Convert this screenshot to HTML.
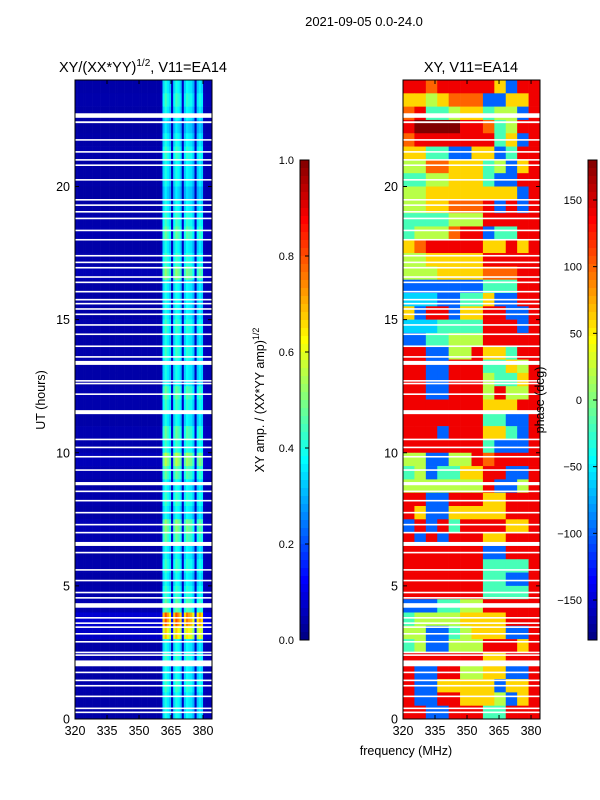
<!DOCTYPE html>
<html><head><meta charset="utf-8"><style>
body{margin:0;background:#fff;}
svg{display:block;font-family:"Liberation Sans","DejaVu Sans",sans-serif;}
</style></head><body>
<svg id="fig" width="600" height="800" viewBox="0 0 600 800" xmlns="http://www.w3.org/2000/svg">
<text x="364" y="26" font-size="13" text-anchor="middle">2021-09-05 0.0-24.0</text>
<text x="143" y="72" font-size="14.5" text-anchor="middle">XY/(XX*YY)<tspan font-size="10" dy="-6">1/2</tspan><tspan dy="6">, V11=EA14</tspan></text>
<text x="471" y="72" font-size="14.5" text-anchor="middle">XY, V11=EA14</text>
<text x="406" y="755" font-size="12.5" text-anchor="middle">frequency (MHz)</text>
<text transform="translate(45,400) rotate(-90)" font-size="12.5" text-anchor="middle">UT (hours)</text>
<text transform="translate(264,400) rotate(-90)" font-size="12.5" text-anchor="middle">XY amp. / (XX*YY amp)<tspan font-size="9" dy="-5">1/2</tspan></text>
<g id="amp"></g>
<g id="pha"></g>
<g id="flags"></g>
<g id="axes"></g>
<text transform="translate(544,400) rotate(-90)" font-size="12.5" text-anchor="middle">phase (deg)</text>
<g id="cbars"></g>
</svg>
<script>
const freqTicks=[320,335,350,365,380];
const timeTicks=[0,5,10,15,20];
const ampTicks=[0.0,0.2,0.4,0.6,0.8,1.0];
const phaseTicks=[-150,-100,-50,0,50,100,150];
// amplitude column profile, 1 MHz channels 320..383
const ampCols=[0.04,0.04,0.04,0.04,0.04,0.04,0.04,0.04,0.04,0.04,0.04,0.04,0.04,0.04,0.04,0.04,
0.04,0.04,0.04,0.04,0.04,0.04,0.04,0.04,0.04,0.04,0.04,0.04,0.04,0.04,0.04,0.04,
0.04,0.04,0.04,0.04,0.04,0.04,0.04,0.04,0.06,0.34,0.4,0.36,0.32,0.07,0.34,0.4,0.37,0.33,
0.07,0.33,0.38,0.36,0.35,0.3,0.07,0.32,0.36,0.33,0.06,0.05,0.05,0.05];
// row gain per 0.5h bin, from 23.5-24 down to 0-0.5
const ampRows=[1,1.1,1,0.9,1,1.1,1,1,0.9,1,1.1,1.2,1,1.1,1.3,1,1,1,1.1,1,1.1,1,1,1.2,
1.1,1,1.2,1.1,1.4,1.2,1,1.1,1,1.3,1.2,1,1.1,1,1.1,1.2,2.0,1.7,1,1.1,1,1.1,1,1];
// phase grid digits 0..9 -> -180..180, 12 freq cols, rows from top (24h) down
const phaseRows=["887888886288","665677722668","784456645528","899998874588","788888884628","664422662488",
"557766645268","445566642288","556666666628","556677782828","444455588888","455578824488",
"678888866868","556666688888","555666677788","222222244488","333224462288","628826688228",
"333444488828","224455588888","882255866488","882288844658","882288854468","882288858558",
"888888866688","888888844228","888288866428","888888842228","552255878888","452446688228",
"555555582258","882288866888","862266666888","282848888668","828288866888","888888822888",
"888888844448","888888844228","888888844448","222445588888","455556666888","552245666228",
"452255588868","888888866888","822885566228","822666662668","822886665268","882288844888"];
// flagged (blank) time intervals, hours [start,end]
const flagged=[[22.58,22.75],[22.38,22.45],[21.72,21.78],[21.27,21.33],[20.97,21.03],[20.77,20.83],[20.22,20.28],
[19.47,19.53],[19.27,19.33],[19.02,19.08],[18.77,18.83],[18.32,18.38],[17.97,18.03],[17.37,17.43],[17.12,17.18],
[16.92,16.98],[16.57,16.63],[16.37,16.43],[16.02,16.08],[15.72,15.78],[15.57,15.63],[15.37,15.43],[15.17,15.23],
[14.77,14.83],[14.42,14.48],[13.97,14.03],[13.57,13.63],[13.3,13.45],[12.67,12.73],[12.57,12.63],[12.17,12.23],
[11.45,11.6],[10.47,10.53],[10.17,10.23],[9.82,9.88],[9.32,9.38],[8.78,8.9],[8.52,8.58],[8.17,8.23],[7.72,7.78],
[7.27,7.33],[6.97,7.03],[6.5,6.65],[6.22,6.28],[5.57,5.63],[5.17,5.23],[4.72,4.78],[4.52,4.58],[4.18,4.35],
[3.77,3.83],[3.57,3.63],[3.42,3.48],[3.17,3.23],[2.87,2.93],[2.47,2.53],[2.37,2.43],[1.98,2.2],[1.72,1.78],
[1.42,1.48],[1.22,1.28],[0.82,0.88],[0.37,0.43],[0.22,0.28]];
const NS="http://www.w3.org/2000/svg";
const fmin=320,fmax=384.2,tmin=0,tmax=24;
const panels=[{x0:75,x1:212},{x0:403,x1:540}];
const y0=719,y1=80;
function xs(p,f){return p.x0+(f-fmin)/(fmax-fmin)*(p.x1-p.x0);}
function ys(t){return y0-(t-tmin)/(tmax-tmin)*(y0-y1);}
function jet(v){v=Math.max(0,Math.min(1,v));
 const r=Math.max(0,Math.min(1,1.5-Math.abs(4*v-3)));
 const g=Math.max(0,Math.min(1,1.5-Math.abs(4*v-2)));
 const b=Math.max(0,Math.min(1,1.5-Math.abs(4*v-1)));
 return `rgb(${Math.round(r*255)},${Math.round(g*255)},${Math.round(b*255)})`;}
function mk(parent,tag,attrs){const e=document.createElementNS(NS,tag);for(const k in attrs)e.setAttribute(k,attrs[k]);parent.appendChild(e);return e;}
const gA=document.getElementById('amp'),gP=document.getElementById('pha'),gF=document.getElementById('flags'),gX=document.getElementById('axes'),gC=document.getElementById('cbars');
const nRows=ampRows.length,dt=(tmax-tmin)/nRows;
for(let r=0;r<nRows;r++){
 const tTop=tmax-r*dt,tBot=tTop-dt;
 for(let c=0;c<ampCols.length;c++){
  const fa=fmin+c,fb=(c==ampCols.length-1)?fmax:fmin+c+1;
  const e=mk(gA,'rect',{x:xs(panels[0],fa),y:ys(tTop),width:xs(panels[0],fb)-xs(panels[0],fa)+0.3,height:ys(tBot)-ys(tTop)+0.3,fill:jet(ampCols[c]*ampRows[r])});
  
  
 }
 const row=phaseRows[r],nc=row.length,df=(fmax-fmin)/nc;
 for(let c=0;c<nc;c++){
  const ph=-180+Number(row[c])*40;
  const fa=fmin+c*df,fb=fa+df;
  const e=mk(gP,'rect',{x:xs(panels[1],fa),y:ys(tTop),width:xs(panels[1],fb)-xs(panels[1],fa)+0.3,height:ys(tBot)-ys(tTop)+0.3,fill:jet((ph+180)/360)});
  
  
 }
}
for(const p of panels){
 for(const fl of flagged){
  const e=mk(gF,'rect',{x:p.x0,y:ys(fl[1]),width:p.x1-p.x0,height:Math.max(1.6,ys(fl[0])-ys(fl[1])),fill:'#fff'});
  
  
 }
 const fr=mk(gX,'rect',{x:p.x0,y:y1,width:p.x1-p.x0,height:y0-y1,fill:'none',stroke:'#000','stroke-width':1});
 
 
 for(const f of freqTicks){const x=xs(p,f);
  mk(gX,'line',{x1:x,x2:x,y1:y0,y2:y0-4,stroke:'#000'});mk(gX,'line',{x1:x,x2:x,y1:y1,y2:y1+4,stroke:'#000'});
  const t=mk(gX,'text',{x:x,y:y0+16,'font-size':12.5,'text-anchor':'middle'});t.textContent=f;
  
  }
 for(const h of timeTicks){const y=ys(h);
  mk(gX,'line',{x1:p.x0,x2:p.x0+4,y1:y,y2:y,stroke:'#000'});mk(gX,'line',{x1:p.x1,x2:p.x1-4,y1:y,y2:y,stroke:'#000'});
  const t=mk(gX,'text',{x:p.x0-5,y:y+4.5,'font-size':12.5,'text-anchor':'end'});t.textContent=h;
  
  }
}
function cbar(x,vmin,vmax,ticks,fmt,name){
 const top=160,bot=640,n=60;
 for(let i=0;i<n;i++){const e=mk(gC,'rect',{x:x,y:top+(bot-top)*i/n,width:9,height:(bot-top)/n+0.5,fill:jet(1-(i+0.5)/n)});
  
  }
 mk(gC,'rect',{x:x,y:top,width:9,height:bot-top,fill:'none',stroke:'#000'});
 for(const v of ticks){const y=bot-(v-vmin)/(vmax-vmin)*(bot-top);
  mk(gC,'line',{x1:x+9,x2:x+5,y1:y,y2:y,stroke:'#000'});
  const t=mk(gC,'text',{x:x-6,y:y+4,'font-size':11,'text-anchor':'end'});t.textContent=fmt(v);
  
  }
}
cbar(300,0,1,ampTicks,v=>v.toFixed(1),'amp-colorbar');
cbar(588,-180,180,phaseTicks,v=>v<0?'\u2212'+(-v):String(v),'phase-colorbar');
</script>
</body></html>
